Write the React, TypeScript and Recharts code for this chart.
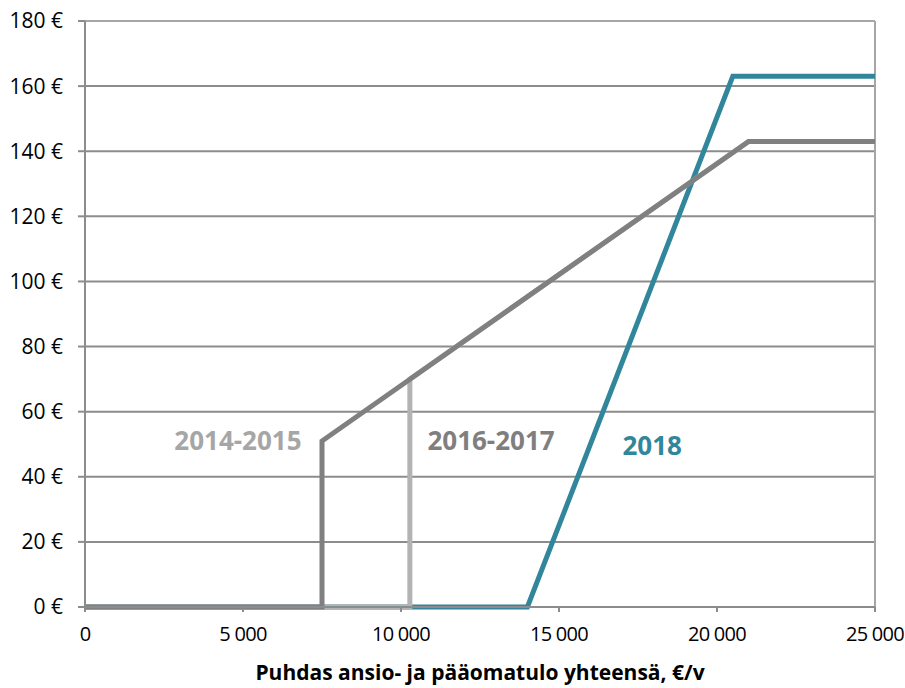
import React from 'react';
import { LineChart, Line, XAxis, YAxis, CartesianGrid, ReferenceLine, ReferenceDot } from 'recharts';

// income thresholds (€/v) and monthly amount (€)
const series2014x = [0, 10280, 10280, 21000, 25000];
const series2014y = [0, 0, 70, 143, 143];
const series2016x = [0, 7500, 7500, 21000, 25000];
const series2016y = [0, 0, 51, 143, 143];
const series2018x = [0, 14000, 20500, 25000];
const series2018y = [0, 0, 163, 163];

const xTicks = [0, 5000, 10000, 15000, 20000, 25000];
const yTicks = [0, 20, 40, 60, 80, 100, 120, 140, 160, 180];

const toPoints = (xs: number[], ys: number[]) => xs.map((x, i) => ({ x, y: ys[i] }));

const data2014 = toPoints(series2014x, series2014y);
const data2016 = toPoints(series2016x, series2016y);
const data2018 = toPoints(series2018x, series2018y);

const FONT = '"Open Sans", sans-serif';
const fmtX = (v: number) => (v === 0 ? '0' : `${v / 1000} 000`);

export default function App() {
  return (
    <div style={{ position: 'absolute', left: 0, top: 0, background: '#fff' }}>
      <LineChart width={905} height={688} margin={{ top: 21, right: 30, left: 0, bottom: 0 }}>
        <CartesianGrid vertical={false} stroke="#8c8c8c" strokeWidth={2} />
        <XAxis
          type="number"
          dataKey="x"
          domain={[0, 25000]}
          ticks={xTicks}
          tickFormatter={fmtX}
          allowDuplicatedCategory={false}
          height={81}
          stroke="#8c8c8c"
          strokeWidth={2}
          tickSize={5}
          tickMargin={15}
          tick={{ fill: '#000', fontSize: 20, fontFamily: FONT, letterSpacing: -0.7 }}
          label={{
            value: 'Puhdas ansio- ja pääomatulo yhteensä, €/v',
            position: 'insideBottom',
            offset: 8,
            fill: '#000',
            fontSize: 21,
            fontWeight: 700,
            fontFamily: FONT,
          }}
        />
        <YAxis
          type="number"
          domain={[0, 180]}
          ticks={yTicks}
          tickFormatter={(v: number) => `${v} €`}
          width={85}
          stroke="#8c8c8c"
          strokeWidth={2}
          tickSize={7}
          tickMargin={15}
          tick={{ fill: '#000', fontSize: 21, fontFamily: FONT }}
        />
        <ReferenceLine y={180} stroke="#a6a6a6" strokeWidth={2} />
        <ReferenceLine x={25000} stroke="#a6a6a6" strokeWidth={2} />
        <Line data={data2018} dataKey="y" stroke="#31869b" strokeWidth={5} dot={false} isAnimationActive={false} strokeLinejoin="miter" />
        <Line data={data2014} dataKey="y" stroke="#b3b3b3" strokeWidth={5} dot={false} isAnimationActive={false} strokeLinejoin="miter" />
        <Line data={data2016} dataKey="y" stroke="#808080" strokeWidth={5} dot={false} isAnimationActive={false} strokeLinejoin="miter" />
        <ReferenceDot x={4840} y={51} r={0} stroke="none"
          label={{ value: '2014-2015', position: 'center', fill: '#a6a6a6', fontSize: 26, fontWeight: 700, fontFamily: FONT }} />
        <ReferenceDot x={12850} y={51} r={0} stroke="none"
          label={{ value: '2016-2017', position: 'center', fill: '#7f7f7f', fontSize: 26, fontWeight: 700, fontFamily: FONT }} />
        <ReferenceDot x={17950} y={49.5} r={0} stroke="none"
          label={{ value: '2018', position: 'center', fill: '#31869b', fontSize: 26, fontWeight: 700, fontFamily: FONT }} />
      </LineChart>
    </div>
  );
}
